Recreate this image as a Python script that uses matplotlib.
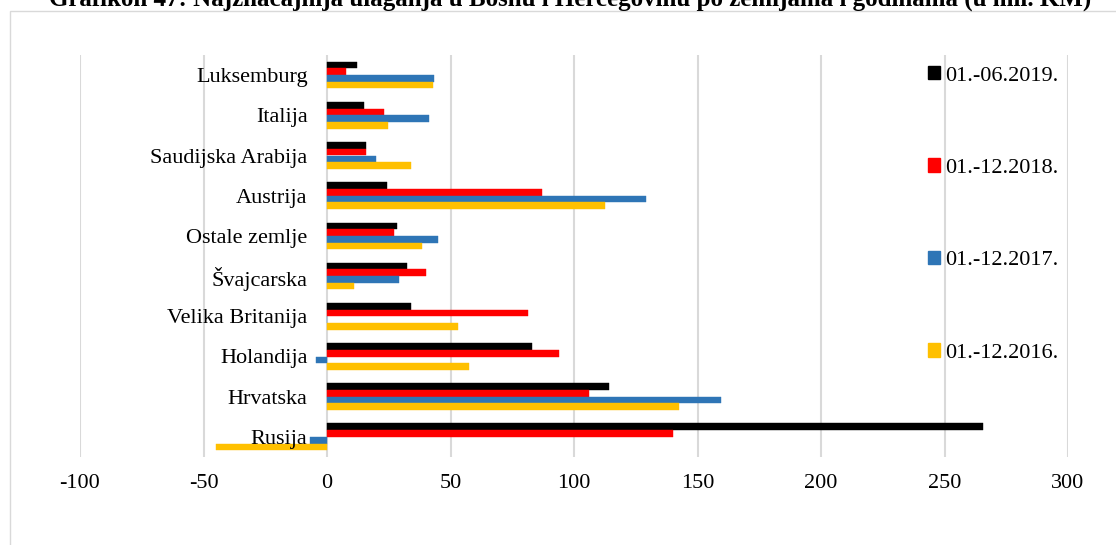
import numpy as np
import matplotlib.pyplot as plt
from matplotlib.patches import Patch, Rectangle

plt.rcParams['font.family'] = ['Liberation Serif', 'DejaVu Serif']

# data (mil. KM), categories from top to bottom
zemlje = ['Luksemburg', 'Italija', 'Saudijska Arabija', 'Austrija', 'Ostale zemlje',
          'Švajcarska', 'Velika Britanija', 'Holandija', 'Hrvatska', 'Rusija']
v2019 = [12.2, 15.0, 15.8, 24.4, 28.4, 32.5, 34.0, 83.0, 114.0, 265.5]
v2018 = [7.7, 23.0, 15.8, 87.0, 27.2, 40.0, 81.3, 94.0, 106.0, 140.0]
v2017 = [43.4, 41.4, 19.9, 129.0, 45.0, 29.0, 0.0, -4.3, 159.6, -7.0]
v2016 = [43.0, 24.8, 34.0, 112.5, 38.6, 11.0, 53.2, 57.4, 142.5, -44.8]

serije = ['01.-06.2019.', '01.-12.2018.', '01.-12.2017.', '01.-12.2016.']
boje = ['#000000', '#FF0000', '#2E75B6', '#FFC000']
xticks = [-100, -50, 0, 50, 100, 150, 200, 250, 300]

fig = plt.figure(figsize=(11.16, 5.45), dpi=100)
ax = fig.add_axes([80/1116, 1-457/545, (1068-80)/1116, (457-55)/545])

# category axis sits at x = 0 (set before the labels, it resets the ticks)
ax.spines['left'].set_position(('data', 0.0))
for s in ['left', 'right', 'top', 'bottom']:
    ax.spines[s].set_visible(False)

# gridlines under the bars, labels over them
for t in xticks:
    ax.axvline(t, color='#d9d9d9', linewidth=1.5, zorder=0.5)

y = np.arange(len(zemlje))
h = 1/6
offsets = [-1.5*h, -0.5*h, 0.5*h, 1.5*h]
for vals, c, off in zip([v2019, v2018, v2017, v2016], boje, offsets):
    ax.barh(y + off, vals, height=h, color=c, edgecolor=c, linewidth=0.3, zorder=2)

ax.set_xlim(-100, 300)
ax.set_ylim(len(zemlje) - 0.5, -0.5)
ax.set_xticks(xticks)
ax.set_xticklabels([str(t) for t in xticks])
ax.set_yticks(y)
ax.set_yticklabels(zemlje)
ax.tick_params(axis='y', length=0, pad=14, labelsize=16)
ax.tick_params(axis='x', length=0, pad=12, labelsize=16)
ax.set_axisbelow(False)

handles = [Patch(facecolor=c, edgecolor=c) for c in boje]
fig.legend(handles, serije, loc='upper left', bbox_to_anchor=(928/1116, 1-66/545),
           frameon=False, fontsize=16, handlelength=0.55, handleheight=0.55,
           handletextpad=0.2, labelspacing=3.28, borderpad=0, borderaxespad=0)

# chart frame
fig.patches.append(Rectangle((10/1116, -0.1), 1.2, 1.1 - 11/545,
                             transform=fig.transFigure, fill=False,
                             edgecolor='#d9d9d9', linewidth=1))

fig.text(570/1116, 1-6/545,
         'Grafikon 47: Najznačajnija ulaganja u Bosnu i Hercegovinu po zemljama i godinama (u mil. KM)',
         ha='center', va='baseline', fontsize=18, fontweight='bold')

fig.savefig('out.png', dpi=100)
